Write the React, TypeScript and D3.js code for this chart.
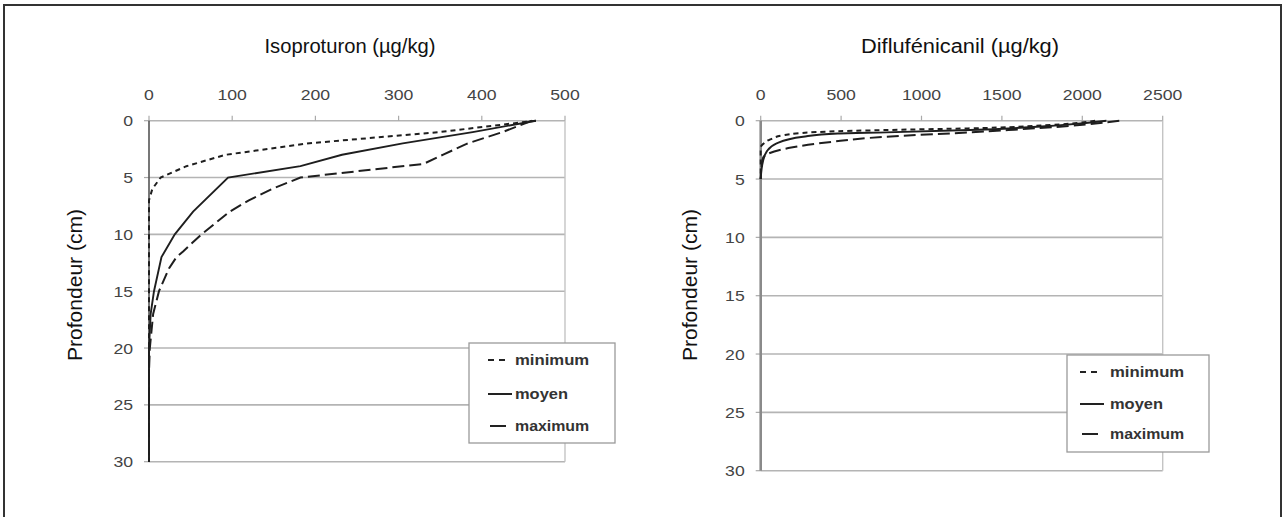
import React from "react";
import * as d3 from "d3";

// ---------- data ----------
const isoTicksX = [0, 100, 200, 300, 400, 500];
const dffTicksX = [0, 500, 1000, 1500, 2000, 2500];
const depthTicks = [0, 5, 10, 15, 20, 25, 30];
const seriesNames = ["minimum", "moyen", "maximum"];

const isoMinDepth = [0, 1, 2, 3, 4, 5, 6, 7, 10, 20, 30];
const isoMinValue = [465, 349, 190, 92, 45, 14, 4, 0, 0, 0, 0];
const isoMoyDepth = [0, 1, 2, 3, 4, 5, 8, 10, 12, 15, 17, 20, 30];
const isoMoyValue = [465, 389, 305, 232, 182, 95, 53, 31, 15, 6, 2, 0, 0];
const isoMaxDepth = [0, 1, 2, 3, 3.8, 5, 6, 7, 8, 10, 11.5, 12, 13, 15, 17, 20, 22, 30];
const isoMaxValue = [460, 425, 383, 353, 330, 182, 148, 120, 97, 63, 41, 33, 24, 12, 5, 1, 0, 0];

const dffMinDepth = [0, 0.37, 0.66, 0.8, 0.94, 1.23, 1.6, 2, 2.3, 5];
const dffMinValue = [2080, 1800, 1290, 780, 400, 150, 60, 15, 0, 0];
const dffMoyDepth = [0, 0.4, 0.8, 1.0, 1.1, 1.37, 1.94, 2.65, 3.5, 4.1, 5];
const dffMoyValue = [2150, 1850, 1300, 780, 480, 264, 99, 37, 14, 6, 0];
const dffMaxDepth = [0, 0.45, 0.8, 1.0, 1.37, 1.8, 2.3, 3.2, 4.2, 5];
const dffMaxValue = [2230, 1920, 1540, 1300, 780, 450, 190, 14, 3, 0];

const dashes = ["5,4", null, "12,5"];

type Panel = {
  title: string;
  xMax: number;
  ticks: number[];
  x0: number; x1: number; y0: number; y1: number;
  titleX: number;
  ylabX: number;
  series: { depth: number[]; value: number[] }[];
  curve: any;
  axisColor: string; axisWidth: number;
  legend: { x: number; y: number; w: number; h: number; rows: number[]; symX: number; textX: number };
};

const panels: Panel[] = [
  {
    title: "Isoproturon (\u00b5g/kg)",
    xMax: 500, ticks: isoTicksX,
    x0: 149, x1: 565, y0: 120.7, y1: 461.7,
    titleX: 350, ylabX: 75,
    series: [
      { depth: isoMinDepth, value: isoMinValue },
      { depth: isoMoyDepth, value: isoMoyValue },
      { depth: isoMaxDepth, value: isoMaxValue },
    ],
    curve: d3.curveLinear,
    axisColor: "#555", axisWidth: 1.6,
    legend: { x: 469, y: 343, w: 146, h: 100, rows: [360, 394, 426], symX: 488, textX: 515 },
  },
  {
    title: "Diflufénicanil (\u00b5g/kg)",
    xMax: 2500, ticks: dffTicksX,
    x0: 760.7, x1: 1162.7, y0: 120.7, y1: 470.7,
    titleX: 960, ylabX: 690,
    series: [
      { depth: dffMinDepth, value: dffMinValue },
      { depth: dffMoyDepth, value: dffMoyValue },
      { depth: dffMaxDepth, value: dffMaxValue },
    ],
    curve: d3.curveMonotoneY,
    axisColor: "#8a8a8a", axisWidth: 2.6,
    legend: { x: 1067, y: 355, w: 142, h: 97, rows: [372, 404, 434], symX: 1080, textX: 1110 },
  },
];

const FONT = "'Liberation Sans', Arial, Helvetica, sans-serif";

function PanelView({ p }: { p: Panel }) {
  const x = d3.scaleLinear().domain([0, p.xMax]).range([p.x0, p.x1]);
  const y = d3.scaleLinear().domain([0, 30]).range([p.y0, p.y1]);
  const line = d3
    .line<[number, number]>()
    .x((d) => x(d[1]))
    .y((d) => y(d[0]))
    .curve(p.curve);
  const L = p.legend;
  return (
    <g>
      {/* title */}
      <text x={p.titleX} y={53} textAnchor="middle" fontSize={20} fill="#111" fontFamily={FONT}
        textLength={p.title.length * 9.0} lengthAdjust="spacingAndGlyphs">
        {p.title}
      </text>
      {/* y label */}
      <text
        transform={`translate(${p.ylabX + 7},${285}) rotate(-90)`}
        textAnchor="middle"
        fontSize={20}
        fill="#111"
        fontFamily={FONT}
        textLength={152}
        lengthAdjust="spacingAndGlyphs"
      >
        Profondeur (cm)
      </text>
      {/* gridlines */}
      {depthTicks.map((t) => (
        <line key={"g" + t} x1={p.x0} x2={p.x1} y1={y(t)} y2={y(t)} stroke="#b4b4b4" strokeWidth={1.6} />
      ))}
      <line x1={p.x1} x2={p.x1} y1={p.y0} y2={p.y1} stroke="#c4c4c4" strokeWidth={1.4} />
      {/* x ticks */}
      {p.ticks.map((t) => (
        <g key={"x" + t}>
          <line x1={x(t)} x2={x(t)} y1={p.y0} y2={p.y0 - 5} stroke="#aaa" strokeWidth={1.2} />
          <text
            x={x(t)}
            y={100}
            textAnchor="middle"
            fontSize={15}
            fill="#444"
            fontFamily={FONT}
            textLength={String(t).length * 9.8}
            lengthAdjust="spacingAndGlyphs"
          >
            {t}
          </text>
        </g>
      ))}
      {/* y ticks */}
      {depthTicks.map((t) => (
        <g key={"y" + t}>
          <line x1={p.x0 - 5} x2={p.x0} y1={y(t)} y2={y(t)} stroke="#aaa" strokeWidth={1.2} />
          <text
            x={p.x0 - 16}
            y={y(t) + 5.5}
            textAnchor="end"
            fontSize={15}
            fill="#444"
            fontFamily={FONT}
            textLength={String(t).length * 9.8}
            lengthAdjust="spacingAndGlyphs"
          >
            {t}
          </text>
        </g>
      ))}
      <line x1={p.x0} x2={p.x0} y1={p.y0} y2={p.y1} stroke={p.axisColor} strokeWidth={p.axisWidth} />
      {/* series */}
      {p.series.map((s, i) => {
        const pts: [number, number][] = s.depth.map((d, k) => [d, s.value[k]]);
        return (
          <path
            key={"s" + i}
            d={line(pts) || ""}
            fill="none"
            stroke="#1e1e1e"
            strokeWidth={i === 1 ? 1.9 : 2}
            strokeDasharray={dashes[i] || undefined}
          />
        );
      })}
      {/* legend */}
      <rect x={L.x} y={L.y} width={L.w} height={L.h} fill="#fff" stroke="#9a9a9a" strokeWidth={1.3} />
      {seriesNames.map((n, i) => (
        <g key={"l" + i}>
          <line
            x1={L.symX}
            x2={i === 0 ? L.symX + 18 : i === 1 ? L.symX + 24 : L.symX + 16}
            y1={L.rows[i]}
            y2={L.rows[i]}
            stroke="#222"
            strokeWidth={2}
            strokeDasharray={i === 0 ? "6,5" : undefined}
            transform={i === 2 ? "translate(2,0)" : undefined}
          />
          <text
            x={L.textX}
            y={L.rows[i] + 5}
            fontSize={14}
            fontWeight="bold"
            fill="#333"
            fontFamily={FONT}
            textLength={n.length * 10.6}
            lengthAdjust="spacingAndGlyphs"
          >
            {n}
          </text>
        </g>
      ))}
    </g>
  );
}

export default function App() {
  return (
    <svg
      width={1284}
      height={517}
      style={{ position: "absolute", left: 0, top: 0, background: "#fff" }}
    >
      <rect x={0} y={0} width={1284} height={517} fill="#fff" />
      <rect x={4} y={5} width={1277} height={530} fill="none" stroke="#333" strokeWidth={2} />
      {panels.map((p, i) => (
        <PanelView key={i} p={p} />
      ))}
    </svg>
  );
}
